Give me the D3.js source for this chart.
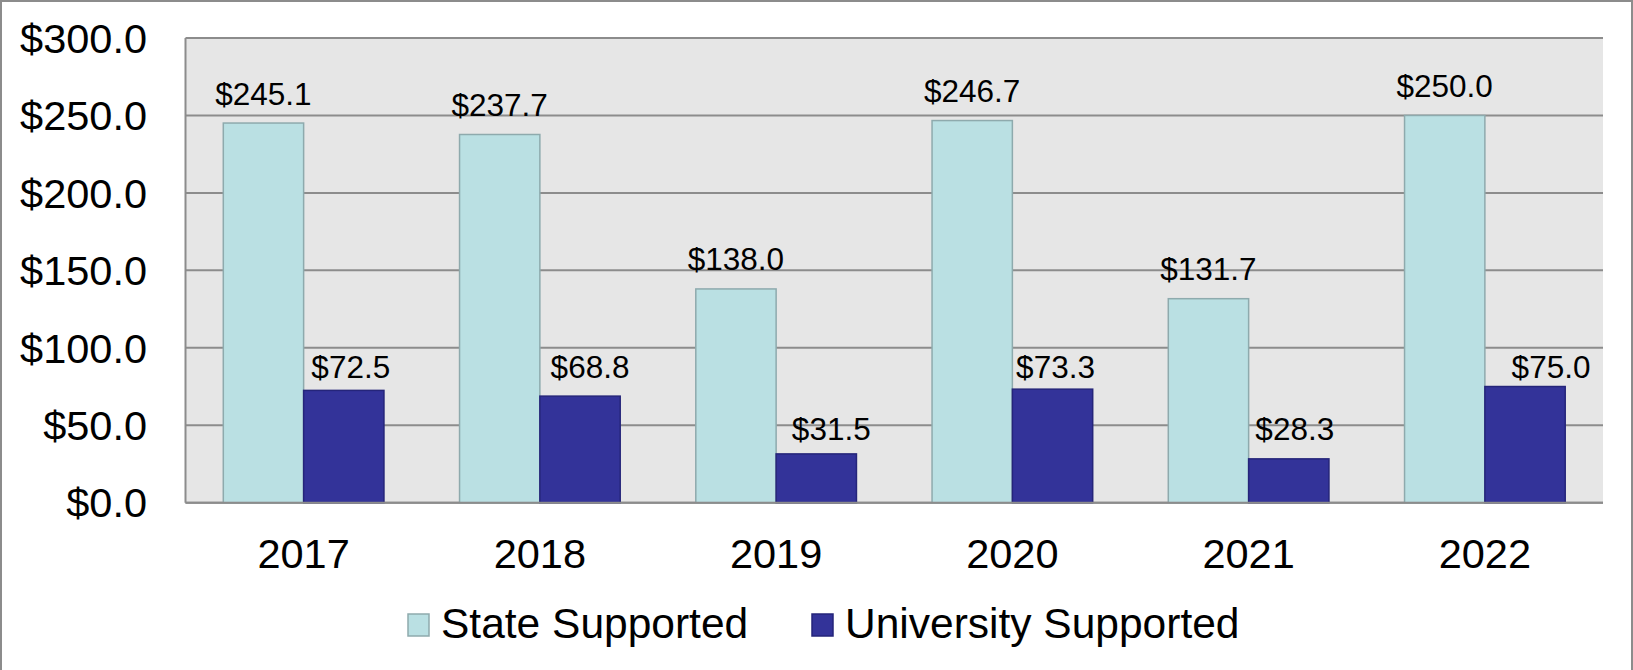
<!DOCTYPE html>
<html>
<head>
<meta charset="utf-8">
<script src="https://cdn.jsdelivr.net/npm/d3@7"></script>
<style>
  html, body { margin: 0; padding: 0; background: #ffffff; }
  svg { display: block; }
  text { font-family: Arial, "Liberation Sans", sans-serif; fill: #000; }
</style>
</head>
<body>
<svg id="chart" width="1633" height="670"></svg>
<script>
// ---- data ----
const years = ["2017", "2018", "2019", "2020", "2021", "2022"];
const stateSupported = [245.1, 237.7, 138.0, 246.7, 131.7, 250.0];
const universitySupported = [72.5, 68.8, 31.5, 73.3, 28.3, 75.0];
const seriesNames = ["State Supported", "University Supported"];
const yTicks = [0, 50, 100, 150, 200, 250, 300];

// ---- layout ----
const W = 1633, H = 670;
const plot = { left: 185.5, right: 1603, top: 38, bottom: 502.7 };
const colors = {
  stateFill: "#bae0e3", stateStroke: "#8eaaad",
  uniFill: "#333399", uniStroke: "#25257a",
  plotBg: "#e6e6e6", grid: "#8c8c8c", frame: "#8c8c8c"
};
// hand-placed offsets for the university value labels (dx, dy from default spot)
const uniLabelNudge = [[7, 6], [10, 0], [15, 4.5], [3, 7.5], [6, 0], [26, 10]];

const fmt = v => "$" + d3.format(".1f")(v);

const svg = d3.select("#chart");

// outer frame
svg.append("rect")
  .attr("x", 1).attr("y", 1).attr("width", W - 2).attr("height", H + 10)
  .attr("fill", "#fff").attr("stroke", colors.frame).attr("stroke-width", 2);

const x = d3.scaleBand().domain(years).range([plot.left, plot.right])
  .paddingInner(0.32).paddingOuter(0.16);
const xs = d3.scaleBand().domain(seriesNames).range([0, x.bandwidth()]).padding(0);
const y = d3.scaleLinear().domain([0, 300]).range([plot.bottom, plot.top]);

// plot background
svg.append("rect")
  .attr("x", plot.left).attr("y", plot.top)
  .attr("width", plot.right - plot.left).attr("height", plot.bottom - plot.top)
  .attr("fill", colors.plotBg);

// horizontal gridlines
svg.append("g").selectAll("line").data(yTicks).join("line")
  .attr("x1", plot.left).attr("x2", plot.right)
  .attr("y1", d => y(d)).attr("y2", d => y(d))
  .attr("stroke", colors.grid).attr("stroke-width", 2);

// value axis line
svg.append("line")
  .attr("x1", plot.left).attr("x2", plot.left)
  .attr("y1", plot.top).attr("y2", plot.bottom)
  .attr("stroke", colors.grid).attr("stroke-width", 2);

// y tick labels
svg.append("g").selectAll("text").data(yTicks).join("text")
  .attr("x", 147).attr("y", d => y(d) + 14.7)
  .attr("text-anchor", "end").attr("font-size", 41.5)
  .text(d => fmt(d));

// bars
const rows = years.map((yr, i) => ({ yr, i, state: stateSupported[i], uni: universitySupported[i] }));

const groups = svg.append("g").selectAll("g").data(rows).join("g")
  .attr("transform", d => `translate(${x(d.yr)},0)`);

groups.append("rect")
  .attr("x", xs(seriesNames[0])).attr("width", xs.bandwidth())
  .attr("y", d => y(d.state)).attr("height", d => y(0) - y(d.state))
  .attr("fill", colors.stateFill).attr("stroke", colors.stateStroke).attr("stroke-width", 1.5);

groups.append("rect")
  .attr("x", xs(seriesNames[1])).attr("width", xs.bandwidth())
  .attr("y", d => y(d.uni)).attr("height", d => y(0) - y(d.uni))
  .attr("fill", colors.uniFill).attr("stroke", colors.uniStroke).attr("stroke-width", 1.5);

// redraw the baseline over the bar bottoms
svg.append("line")
  .attr("x1", plot.left).attr("x2", plot.right)
  .attr("y1", y(0)).attr("y2", y(0))
  .attr("stroke", colors.grid).attr("stroke-width", 2);

// value labels
groups.append("text")
  .attr("x", xs(seriesNames[0]) + xs.bandwidth() / 2)
  .attr("y", d => y(d.state) - 18.5)
  .attr("text-anchor", "middle").attr("font-size", 31.5)
  .text(d => fmt(d.state));

groups.append("text")
  .attr("x", d => xs(seriesNames[1]) + xs.bandwidth() / 2 + uniLabelNudge[d.i][0])
  .attr("y", d => y(d.uni) - 18.5 + uniLabelNudge[d.i][1])
  .attr("text-anchor", "middle").attr("font-size", 31.5)
  .text(d => fmt(d.uni));

// category labels
svg.append("g").selectAll("text").data(years).join("text")
  .attr("x", d => x(d) + x.bandwidth() / 2).attr("y", 567.7)
  .attr("text-anchor", "middle").attr("font-size", 41.5)
  .text(d => d);

// legend
const legendItems = [
  { name: seriesNames[0], fill: colors.stateFill, stroke: colors.stateStroke, x: 408 },
  { name: seriesNames[1], fill: colors.uniFill, stroke: colors.uniStroke, x: 812 }
];
const lg = svg.append("g").selectAll("g").data(legendItems).join("g")
  .attr("transform", d => `translate(${d.x},614)`);
lg.append("rect").attr("width", 21).attr("height", 22)
  .attr("fill", d => d.fill).attr("stroke", d => d.stroke).attr("stroke-width", 1.5);
lg.append("text").attr("x", 33).attr("y", 23.5).attr("font-size", 42.5)
  .text(d => d.name);
</script>
</body>
</html>
